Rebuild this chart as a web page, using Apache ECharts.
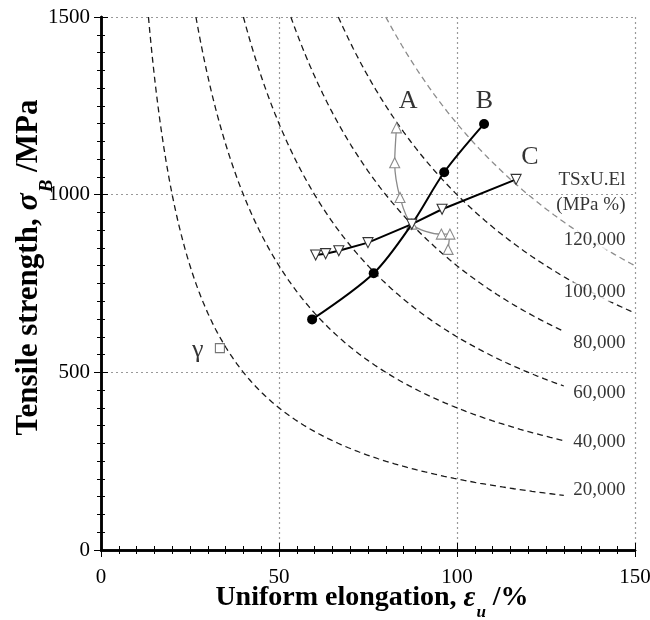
<!DOCTYPE html>
<html>
<head>
<meta charset="utf-8">
<script src="https://cdn.jsdelivr.net/npm/echarts@6/dist/echarts.min.js"></script>
<style>
  html, body { margin: 0; padding: 0; background: #fff; }
  #chart { width: 650px; height: 620px; }
</style>
</head>
<body>
<div id="chart"></div>
<script>
// Tensile strength vs. uniform elongation, with iso-lines of TS x U.El

// Axis ranges and ticks
const xTicks = [0, 50, 100, 150];
const yTicks = [0, 500, 1000, 1500];

// Measured steels: [uniform elongation %, tensile strength MPa]
const seriesA = [[83.0, 1188], [82.5, 1090], [84.0, 992], [87.3, 917], [95.6, 889], [98.0, 889], [97.5, 846]];
const seriesB = [[59.3, 649], [76.6, 779], [87.3, 917], [96.4, 1063], [107.6, 1199]];
const seriesC = [[60.3, 830], [63.1, 834], [66.8, 842], [75.0, 865], [87.3, 917], [95.8, 959], [116.6, 1043]];
const gammaPoint = [[33.4, 568]];

// Constant products TS x U.El (MPa %)
const isoProducts = [20000, 40000, 60000, 80000, 100000, 120000];
const isoLabels = ['20,000', '40,000', '60,000', '80,000', '100,000', '120,000'];

// Drawing layout for the iso-lines and text
const isoEndX = [130, 130, 130, 130, 150, 150];
const isoLabelY = [169, 304, 442, 583, 726, 872];
const isoLabelX = 147.6;
const isoHeader = [{ text: 'TSxU.El', y: 1041 }, { text: '(MPa %)', y: 971 }];
const tags = [
  { name: 'A', value: [86.3, 1264] },
  { name: 'B', value: [107.7, 1264] },
  { name: 'C', value: [120.5, 1106] },
  { name: 'γ', value: [27.2, 561] }
];

const SERIF = '"Liberation Serif", "DejaVu Serif", serif';
const INK = '#000';

// Hyperbola y = c / x sampled from the top edge of the plot to its end
function isoCurve(c, xEnd) {
  const x0 = c / yTicks[yTicks.length - 1];
  const pts = [];
  const n = 160;
  for (let i = 0; i <= n; i++) {
    const x = x0 * Math.pow(xEnd / x0, i / n);
    pts.push([x, c / x]);
  }
  return pts;
}

const curveSeries = isoProducts.map((c, i) => ({
  type: 'line',
  data: isoCurve(c, isoEndX[i]),
  showSymbol: false,
  silent: true,
  z: 1,
  lineStyle: {
    color: i === isoProducts.length - 1 ? '#8c8c8c' : '#1a1a1a',
    width: 1.3,
    type: [6, 4]
  }
}));

const textLabel = (size, extra) => Object.assign({
  show: true,
  formatter: p => p.name,
  fontFamily: SERIF,
  fontSize: size,
  color: INK
}, extra || {});

const isoLabelSeries = {
  type: 'scatter',
  silent: true,
  symbolSize: 0,
  z: 5,
  data: isoLabels.map((t, i) => ({ name: t, value: [isoLabelX, isoLabelY[i]] }))
    .concat(isoHeader.map(h => ({ name: h.text, value: [isoLabelX, h.y] }))),
  label: textLabel(19, {
    position: 'left',
    distance: 0,
    backgroundColor: '#fff',
    padding: [0, 1, 0, 2]
  })
};

const tagSeries = {
  type: 'scatter',
  silent: true,
  symbolSize: 0,
  z: 5,
  data: tags,
  label: textLabel(26, { position: 'inside' })
};

const openMark = (color) => ({ color: '#fff', borderColor: color, borderWidth: 1.1 });

const tickStyle = { color: '#000', width: 1 };
const frameAxis = (extra) => Object.assign({
  type: 'value',
  axisLine: { show: true, lineStyle: { color: '#000', width: 2.5 } },
  axisTick: { show: true, inside: true, length: 7, lineStyle: tickStyle },
  minorTick: { show: true, splitNumber: 10, length: 4, lineStyle: tickStyle },
  axisLabel: { show: false },
  splitLine: { show: false }
}, extra);

const gridLine = { show: true, lineStyle: { color: '#999', type: [2, 3], width: 1.2 } };
const tickLabel = (margin) => ({
  fontFamily: SERIF, fontSize: 21, color: INK, margin: margin,
  formatter: v => String(v)
});

// Rich text for bold axis titles with an italic symbol and subscript
const titleRich = (size, subDrop, shift) => ({
  padding: shift,
  rich: {
    t: { fontFamily: SERIF, fontWeight: 'bold', fontSize: size, color: INK, lineHeight: size + 3, verticalAlign: 'top' },
    e: { fontFamily: SERIF, fontWeight: 'bold', fontStyle: 'italic', fontSize: size + 1, color: INK, lineHeight: size + 3, verticalAlign: 'top', padding: [0, 1, 0, 0] },
    s: { fontFamily: SERIF, fontWeight: 'bold', fontStyle: 'italic', fontSize: Math.round(size * 0.62), color: INK, lineHeight: Math.round(size * 0.62), verticalAlign: 'top', padding: [subDrop, 0, 0, 0] }
  }
});

const xMin = xTicks[0], xMax = xTicks[xTicks.length - 1];
const yMin = yTicks[0], yMax = yTicks[yTicks.length - 1];

const option = {
  backgroundColor: '#fff',
  animation: false,
  grid: { left: 101, right: 15, top: 17, bottom: 70, containLabel: false, outerBoundsMode: 'none' },
  xAxis: [
    frameAxis({
      min: xMin, max: xMax, interval: 50, position: 'bottom',
      axisLabel: tickLabel(17),
      splitLine: gridLine,
      name: '{t|Uniform elongation, }{e|ε}{s|u}{t| /%}',
      nameLocation: 'middle',
      nameGap: 34,
      nameMoveOverlap: false,
      nameTextStyle: titleRich(28, 20, [0, 0, 0, 8])
    }),
    frameAxis({ min: xMin, max: xMax, interval: 50, position: 'top' })
  ],
  yAxis: [
    frameAxis({
      min: yMin, max: yMax, interval: 500, position: 'left',
      axisLabel: tickLabel(11),
      splitLine: gridLine,
      name: '{t|Tensile strength, }{e|σ}{s|B}{t| /MPa}',
      nameLocation: 'middle',
      nameGap: 54,
      nameMoveOverlap: false,
      nameTextStyle: titleRich(31, 25, [0, 0, 0, 32])
    }),
    frameAxis({ min: yMin, max: yMax, interval: 500, position: 'right' })
  ],
  series: curveSeries.concat([
    {
      name: 'A',
      type: 'line',
      data: seriesA,
      smooth: 0.3,
      z: 3,
      symbol: 'triangle',
      symbolSize: 10,
      lineStyle: { color: '#8a8a8a', width: 1.3 },
      itemStyle: openMark('#8a8a8a')
    },
    {
      name: 'B',
      type: 'line',
      data: seriesB.map((p, i) => i === 2 ? { value: p, symbol: 'none' } : p),
      smooth: 0.3,
      z: 4,
      symbol: 'circle',
      symbolSize: 10,
      lineStyle: { color: '#000', width: 2 },
      itemStyle: { color: '#000' }
    },
    {
      name: 'C',
      type: 'line',
      data: seriesC,
      z: 4,
      symbol: 'triangle',
      symbolRotate: 180,
      symbolSize: 10,
      lineStyle: { color: '#000', width: 2 },
      itemStyle: openMark('#333')
    },
    {
      name: 'γ',
      type: 'scatter',
      data: gammaPoint,
      z: 4,
      symbol: 'rect',
      symbolSize: 9,
      itemStyle: { color: '#fff', borderColor: '#555', borderWidth: 1.1 }
    },
    isoLabelSeries,
    tagSeries
  ])
};

const chart = echarts.init(document.getElementById('chart'), null, { renderer: 'canvas' });
chart.setOption(option);
</script>
</body>
</html>
